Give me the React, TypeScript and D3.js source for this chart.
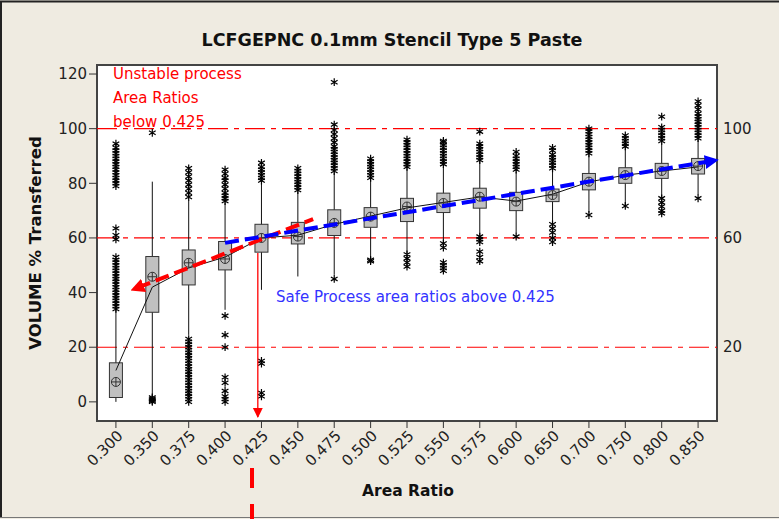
import React from "react";
import * as d3 from "d3";

// area ratio categories on the x axis
const categories = [
  "0.300", "0.350", "0.375", "0.400", "0.425", "0.450", "0.475", "0.500", "0.525",
  "0.550", "0.575", "0.600", "0.650", "0.700", "0.750", "0.800", "0.850",
];

// box statistics (VOLUME % Transferred)
const q1 = [1.6, 32.8, 42.8, 48.3, 54.8, 57.8, 60.9, 63.9, 66, 69.3, 70.9, 70, 73.3, 77.6, 80, 81.8, 83.4];
const q3 = [14.3, 53.2, 55.6, 58.7, 65, 65.7, 70.3, 71.1, 74.5, 76.4, 78.2, 76.7, 77.9, 83.6, 85.7, 87.3, 89.1];
const medians = [11.5, 42, 49, 53, 60, 61, 65, 68, 71, 73, 75, 73.5, 76, 80.5, 83, 84.5, 86];
const means = [7.3, 45.8, 50.9, 52.3, 60, 60.5, 65.5, 67.8, 71.5, 72.8, 75.1, 73.3, 75.7, 80.6, 83, 84.5, 86.3];
const whiskerLow = [0, 2.3, 24.5, 33.7, 41, 45.9, 46.5, 53.2, 54.5, 58.5, 61.1, 61.7, 66, 69.2, 72, 75.1, 75.7];
const whiskerHigh = [33.7, 80.6, 73.9, 72.8, 80, 77, 83.8, 81.2, 85.5, 86, 88, 84.3, 84.9, 90.4, 92.8, 94.6, 95.9];

const outliers = [
  [34, 35, 36, 37, 38, 39, 40, 41, 42, 43, 44, 45, 46, 47, 48, 49, 50, 51, 52, 53, 59.5, 61, 63.5,
    79, 80, 81, 82, 83, 84, 85, 86, 87, 88, 89, 90, 91, 92, 93, 94.5],
  [0, 0.4, 0.8, 1.2, 1.6, 98.5],
  [0, 1, 2, 3, 4, 5, 6, 7, 8, 9, 10, 11, 12, 13, 14, 15, 16, 17, 18, 19, 20, 21, 22, 23,
    75, 76.5, 78, 79.5, 81, 82.5, 84, 85.5],
  [0, 1, 2, 4, 7, 9, 20, 24.5, 31.5, 73.5, 74.5, 75.5, 76.5, 78, 79.5, 81, 82, 83.5, 85],
  [2, 3.3, 14, 15, 81, 82, 83, 84, 85, 86, 87.5],
  [77.5, 78.5, 79.5, 80.5, 81.5, 82.5, 83.5, 84.5, 85.5],
  [45, 84.5, 85.5, 86.5, 87.5, 88.5, 89.5, 90.5, 91.5, 92.5, 93.5, 95, 96.5, 98, 99.5, 101.5, 117],
  [51.5, 52, 82, 83, 84, 85, 86, 87, 88, 89],
  [49.5, 51, 52.5, 54, 86, 87, 88, 89, 90, 91, 92, 93, 94, 95, 96],
  [48, 49, 50, 51, 56.5, 58, 87, 88, 89, 90, 91, 92, 93, 94, 95, 95.5],
  [51.5, 53, 55, 58.5, 59.5, 60.5, 88.5, 89.5, 90.5, 91.5, 92.5, 93.5, 94.5, 98.9],
  [60.5, 85, 86, 87, 88, 89, 90, 91.5],
  [58.5, 60, 62, 63.5, 65, 85.5, 86.5, 87.5, 88.5, 89.5, 90.5, 92, 93],
  [68.4, 91, 92, 93, 94, 95, 96, 97, 98, 99, 100],
  [71.7, 93.5, 94.5, 95.5, 96.5, 97.5],
  [69, 70, 71.5, 73, 74.5, 95.5, 96.5, 97.5, 98.5, 99.5, 100.5, 104.4],
  [74.5, 96.5, 97.5, 98.5, 99.5, 100.5, 101.5, 102.5, 103.5, 104.5, 105.5, 107, 108.5, 110],
];

const yTicks = [0, 20, 40, 60, 80, 100, 120];
const refLines = [100, 60, 20];

// hand drawn trend arrows (category index, value)
const redFitIdx = [0.58, 5.42];
const redFitVal = [41.7, 66.9];
const blueFitIdx = [3.0, 16.38];
const blueFitVal = [58.2, 88.2];
const cutoffIdx = 3.9;
const cutoffVal = [54.5, -5.5];
const bottomMarkIdx = 3.74;

const W = 779;
const H = 519;
const plot = { left: 97, right: 717, top: 65, bottom: 421 };
const font = "'DejaVu Sans', sans-serif";

export default function App() {
  const x = d3.scalePoint().domain(categories).range([plot.left, plot.right]).padding(0.52);
  const xi = d3.scaleLinear().domain([0, categories.length - 1]).range([x(categories[0]), x(categories[categories.length - 1])]);
  const y = d3.scaleLinear().domain([-7, 123.3]).range([plot.bottom, plot.top]);

  const star = d3.symbol().type(d3.symbolAsterisk).size(42)();
  const line = d3.line();
  const connect = line(categories.map((c, i) => [x(c), y(medians[i])]));
  const boxW = 13;

  return (
    <svg width={W} height={H} style={{ position: "absolute", left: 0, top: 0, fontFamily: font }}>
      <defs>
        <marker id="arrRed" viewBox="0 0 10 10" refX="5" refY="5" markerWidth="14" markerHeight="14" markerUnits="userSpaceOnUse" orient="auto-start-reverse">
          <path d="M0,0L10,5L0,10z" fill="#ff0000" />
        </marker>
        <marker id="arrBlue" viewBox="0 0 10 10" refX="5" refY="5" markerWidth="14" markerHeight="14" markerUnits="userSpaceOnUse" orient="auto">
          <path d="M0,0L10,5L0,10z" fill="#0000ff" />
        </marker>
        <marker id="arrThin" viewBox="0 0 10 10" refX="9" refY="5" markerWidth="10" markerHeight="12" markerUnits="userSpaceOnUse" orient="auto">
          <path d="M0,0L10,5L0,10z" fill="#ff0000" />
        </marker>
      </defs>
      <rect x={0} y={0} width={W} height={H} fill="#efebe1" />
      <path d={`M1,${H - 1}V1.5H${W}`} fill="none" stroke="#222" strokeWidth={2} />
      <line x1={0} x2={W} y1={H - 1.5} y2={H - 1.5} stroke="#777" strokeWidth={1} />

      <text x={392} y={46} textAnchor="middle" fontSize={17.5} fontWeight="bold" fill="#111">
        LCFGEPNC 0.1mm Stencil Type 5 Paste
      </text>

      <rect x={plot.left} y={plot.top} width={plot.right - plot.left} height={plot.bottom - plot.top} fill="#fff" stroke="#444" strokeWidth={2} />

      {/* y axis */}
      {yTicks.map((t) => (
        <g key={t}>
          <line x1={plot.left - 8} x2={plot.left} y1={y(t)} y2={y(t)} stroke="#333" />
          <text x={plot.left - 10} y={y(t)} dy="0.35em" textAnchor="end" fontSize={15} fill="#222">{t}</text>
        </g>
      ))}
      <text transform={`translate(41,${(plot.top + plot.bottom) / 2}) rotate(-90)`} textAnchor="middle" fontSize={16.5} fontWeight="bold" fill="#111">
        VOLUME % Transferred
      </text>

      {/* x axis */}
      {categories.map((c) => (
        <g key={c}>
          <line x1={x(c)} x2={x(c)} y1={plot.bottom} y2={plot.bottom + 7} stroke="#333" />
          <text transform={`translate(${x(c) + 4},${plot.bottom + 12}) rotate(-45)`} textAnchor="end" dy="0.35em" fontSize={15} fill="#222">{c}</text>
        </g>
      ))}
      <text x={408} y={496} textAnchor="middle" fontSize={15.5} fontWeight="bold" fill="#111">Area Ratio</text>

      {/* reference lines */}
      {refLines.map((r) => (
        <g key={r}>
          <line x1={plot.left} x2={plot.right} y1={y(r)} y2={y(r)} stroke="#ff0000" strokeWidth={1.2} strokeDasharray="20,6,5,6" />
          <text x={plot.right + 6} y={y(r)} dy="0.35em" fontSize={15} fill="#222">{r}</text>
        </g>
      ))}

      {/* boxes */}
      {categories.map((c, i) => (
        <g key={c}>
          <line x1={x(c)} x2={x(c)} y1={y(whiskerLow[i])} y2={y(whiskerHigh[i])} stroke="#111" />
          <rect x={x(c) - boxW / 2} y={y(q3[i])} width={boxW} height={y(q1[i]) - y(q3[i])} fill="#c0c0c0" stroke="#333" />
        </g>
      ))}
      <path d={connect} fill="none" stroke="#111" strokeWidth={1} />
      {categories.map((c, i) => (
        <g key={c} transform={`translate(${x(c)},${y(means[i])})`} stroke="#333" fill="none">
          <circle r={4.5} />
          <line x1={-4.5} x2={4.5} />
          <line y1={-4.5} y2={4.5} />
        </g>
      ))}
      {outliers.map((vals, i) =>
        vals.map((v, j) => (
          <path key={`${i}-${j}`} d={star} transform={`translate(${x(categories[i])},${y(v)})`} stroke="#000" strokeWidth={1.2} fill="none" />
        ))
      )}

      {/* trend arrows */}
      <path
        d={line(redFitIdx.map((d, i) => [xi(d), y(redFitVal[i])]))}
        stroke="#ff0000" strokeWidth={4} strokeDasharray="14,6" fill="none" markerStart="url(#arrRed)"
      />
      <path
        d={line(blueFitIdx.map((d, i) => [xi(d), y(blueFitVal[i])]))}
        stroke="#0000ff" strokeWidth={4} strokeDasharray="14,6" fill="none" markerEnd="url(#arrBlue)"
      />
      <line x1={xi(cutoffIdx)} x2={xi(cutoffIdx)} y1={y(cutoffVal[0])} y2={y(cutoffVal[1])} stroke="#ff0000" strokeWidth={1.3} markerEnd="url(#arrThin)" />
      <line x1={xi(bottomMarkIdx)} x2={xi(bottomMarkIdx)} y1={468} y2={H} stroke="#ff0000" strokeWidth={4} strokeDasharray="20,16" />

      {/* annotations */}
      <g fontSize={15} fill="#ff0000">
        <text x={113} y={79}>Unstable process</text>
        <text x={113} y={103}>Area Ratios</text>
        <text x={113} y={127}>below 0.425</text>
      </g>
      <text x={276} y={302} fontSize={15} fill="#3333ff">Safe Process area ratios above 0.425</text>
    </svg>
  );
}
